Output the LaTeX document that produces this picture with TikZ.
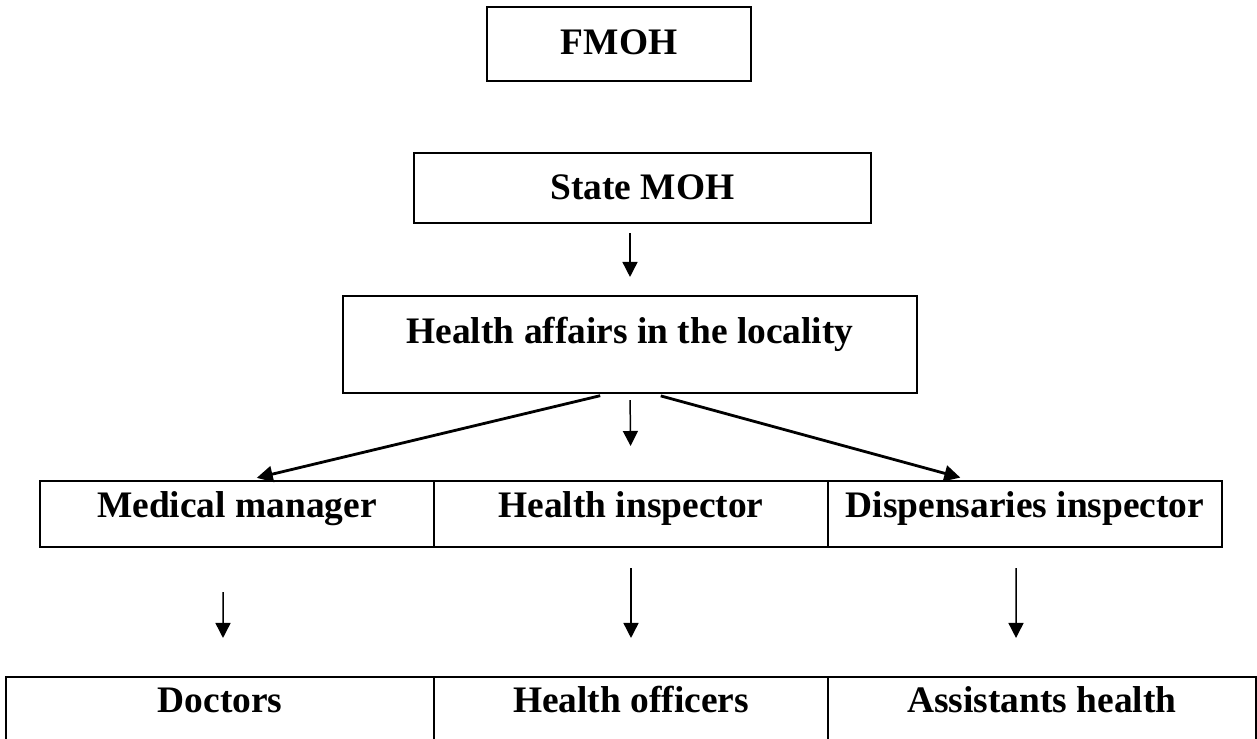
\documentclass[tikz,border=0pt]{standalone}
\usepackage{fontspec}
\setmainfont{Liberation Serif}
\usepackage{tikz}
\usetikzlibrary{arrows.meta}
\tikzset{
  bloco/.style={draw, line width=1.2pt, inner sep=0pt, minimum width=#1, text height=0.5cm, align=center, font=\fontsize{21.3}{25}\selectfont\bfseries},
  bloco/.default=7.88cm,
  seta/.style={-{Triangle[length=0.3cm, width=0.3cm]}, line width=0.85pt},
  setagrossa/.style={-{Triangle[length=0.32cm, width=0.32cm]}, line width=1.6pt},
}
\begin{document}
\begin{tikzpicture}[x=0.02cm, y=-0.02cm]
  \useasboundingbox (0,0) rectangle (1257,738);
  \node[bloco=5.28cm, minimum height=1.48cm, text depth=0.1cm] (fmoh) at (619,44) {FMOH};
  \node[bloco=9.14cm, minimum height=1.4cm, text depth=0.06cm] (state) at (642.5,188) {State MOH};
  \node[bloco=11.48cm, minimum height=1.94cm, text depth=0.56cm] (affairs) at (630,344.5) {Health affairs in the locality};
  \foreach \nome/\x/\lab in {mm/237/Medical manager, hi/631/Health inspector, di/1025/Dispensaries inspector} {
    \node[bloco, minimum height=1.32cm, text depth=0.38cm] (\nome) at (\x,514) {\lab};
  }
  \foreach \nome/\x/\w/\lab in {doc/220/8.56cm/Doctors, ho/631/7.88cm/Health officers, ah/1042/8.56cm/Assistants health} {
    \node[bloco=\w, minimum height=1.66cm, text depth=0.76cm] (\nome) at (\x,718.5) {\lab};
  }
  \draw[seta, shorten <=0.18cm, shorten >=0.36cm] (state.south -| affairs) -- (affairs.north);
  \draw[setagrossa, shorten <=0.14cm, shorten >=0.18cm] ([xshift=-0.46cm]affairs.south) -- ([xshift=0.22cm]mm.north);
  \draw[seta, shorten <=0.12cm, shorten >=0.68cm] (affairs.south) -- (hi.north);
  \draw[setagrossa, shorten <=0.14cm, shorten >=0.18cm] ([xshift=0.48cm]affairs.south) -- ([xshift=-1.12cm]di.north);
  \draw[seta, shorten <=0.88cm, shorten >=0.76cm] ([xshift=-0.28cm]mm.south) -- ([xshift=0.06cm]doc.north);
  \draw[seta, shorten <=0.4cm, shorten >=0.76cm] (hi.south) -- (ho.north);
  \draw[seta, shorten <=0.4cm, shorten >=0.76cm] ([xshift=-0.18cm]di.south) -- ([xshift=-0.52cm]ah.north);
\end{tikzpicture}
\end{document}
